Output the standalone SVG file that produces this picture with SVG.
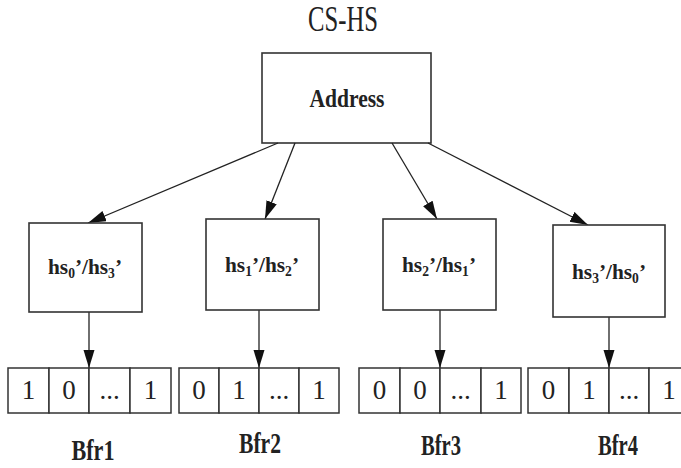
<svg xmlns="http://www.w3.org/2000/svg" width="681" height="468" viewBox="0 0 681 468">
<defs>
<marker id="ah" markerUnits="userSpaceOnUse" markerWidth="18" markerHeight="12" refX="18" refY="5.5" orient="auto">
<path d="M0,0 L18,5.5 L0,11 z" fill="#111"/>
</marker>
<style>
.box{fill:#fff;stroke:#333;stroke-width:1.6}
.cell{fill:#fff;stroke:#333;stroke-width:1.5}
.ln{stroke:#222;stroke-width:1.3;fill:none;marker-end:url(#ah)}
.t{font-family:"Liberation Serif","Times New Roman",serif;fill:#222;text-anchor:middle}
.b{font-weight:bold}
.d{font-size:27px}
.hs{font-size:22px}
.bf{font-size:30px}
</style>
</defs>
<rect width="681" height="468" fill="#fff"/>
<text class="t" x="343" y="31" font-size="35" textLength="70" lengthAdjust="spacingAndGlyphs">CS-HS</text>
<g id="address">
<rect class="box" x="262" y="53" width="169" height="90"/>
<text class="t b" x="347" y="107" font-size="26" textLength="75" lengthAdjust="spacingAndGlyphs">Address</text>
</g>
<g id="connectors">
<line class="ln" x1="278" y1="143" x2="88" y2="223"/>
<line class="ln" x1="295" y1="143" x2="265" y2="219"/>
<line class="ln" x1="392" y1="143" x2="437" y2="219"/>
<line class="ln" x1="428" y1="143" x2="588" y2="225"/>
<line class="ln" x1="89" y1="312" x2="89" y2="368"/>
<line class="ln" x1="259" y1="310" x2="259" y2="368"/>
<line class="ln" x1="440" y1="310" x2="440" y2="368"/>
<line class="ln" x1="609" y1="317" x2="609" y2="368"/>
</g>
<g id="hs1">
<rect class="box" x="29" y="223" width="113" height="89"/>
<text class="t b hs" x="85" y="274" textLength="74" lengthAdjust="spacingAndGlyphs">hs<tspan font-size="14" dy="4">0</tspan><tspan dy="-4">’/hs</tspan><tspan font-size="14" dy="4">3</tspan><tspan dy="-4">’</tspan></text>
</g>
<g id="hs2">
<rect class="box" x="206" y="219" width="113" height="91"/>
<text class="t b hs" x="262" y="272" textLength="74" lengthAdjust="spacingAndGlyphs">hs<tspan font-size="14" dy="4">1</tspan><tspan dy="-4">’/hs</tspan><tspan font-size="14" dy="4">2</tspan><tspan dy="-4">’</tspan></text>
</g>
<g id="hs3">
<rect class="box" x="383" y="219" width="113" height="91"/>
<text class="t b hs" x="439" y="272" textLength="74" lengthAdjust="spacingAndGlyphs">hs<tspan font-size="14" dy="4">2</tspan><tspan dy="-4">’/hs</tspan><tspan font-size="14" dy="4">1</tspan><tspan dy="-4">’</tspan></text>
</g>
<g id="hs4">
<rect class="box" x="553" y="225" width="112" height="92"/>
<text class="t b hs" x="609" y="279" textLength="74" lengthAdjust="spacingAndGlyphs">hs<tspan font-size="14" dy="4">3</tspan><tspan dy="-4">’/hs</tspan><tspan font-size="14" dy="4">0</tspan><tspan dy="-4">’</tspan></text>
</g>
<g id="bfr1">
<rect class="cell" x="8" y="368" width="41" height="45"/>
<rect class="cell" x="49" y="368" width="40" height="45"/>
<rect class="cell" x="89" y="368" width="41" height="45"/>
<rect class="cell" x="130" y="368" width="41" height="45"/>
<text class="t d" x="28.5" y="399">1</text>
<text class="t d" x="69" y="399">0</text>
<text class="t d" x="109.5" y="399">...</text>
<text class="t d" x="150.5" y="399">1</text>
<text class="t b bf" x="93" y="460" textLength="43" lengthAdjust="spacingAndGlyphs">Bfr1</text>
</g>
<g id="bfr2">
<rect class="cell" x="179" y="368" width="40" height="45"/>
<rect class="cell" x="219" y="368" width="40" height="45"/>
<rect class="cell" x="259" y="368" width="40" height="45"/>
<rect class="cell" x="299" y="368" width="40" height="45"/>
<text class="t d" x="199" y="399">0</text>
<text class="t d" x="239" y="399">1</text>
<text class="t d" x="279" y="399">...</text>
<text class="t d" x="319" y="399">1</text>
<text class="t b bf" x="260" y="453" textLength="42" lengthAdjust="spacingAndGlyphs">Bfr2</text>
</g>
<g id="bfr3">
<rect class="cell" x="359" y="368" width="41" height="45"/>
<rect class="cell" x="400" y="368" width="40" height="45"/>
<rect class="cell" x="440" y="368" width="41" height="45"/>
<rect class="cell" x="481" y="368" width="40" height="45"/>
<text class="t d" x="379.5" y="399">0</text>
<text class="t d" x="420" y="399">0</text>
<text class="t d" x="460.5" y="399">...</text>
<text class="t d" x="501" y="399">1</text>
<text class="t b bf" x="441" y="455" textLength="40" lengthAdjust="spacingAndGlyphs">Bfr3</text>
</g>
<g id="bfr4">
<rect class="cell" x="528" y="368" width="41" height="45"/>
<rect class="cell" x="569" y="368" width="40" height="45"/>
<rect class="cell" x="609" y="368" width="40" height="45"/>
<rect class="cell" x="649" y="368" width="40" height="45"/>
<text class="t d" x="548.5" y="399">0</text>
<text class="t d" x="589" y="399">1</text>
<text class="t d" x="629" y="399">...</text>
<text class="t d" x="669" y="399">1</text>
<text class="t b bf" x="618" y="455" textLength="40" lengthAdjust="spacingAndGlyphs">Bfr4</text>
</g>
</svg>
